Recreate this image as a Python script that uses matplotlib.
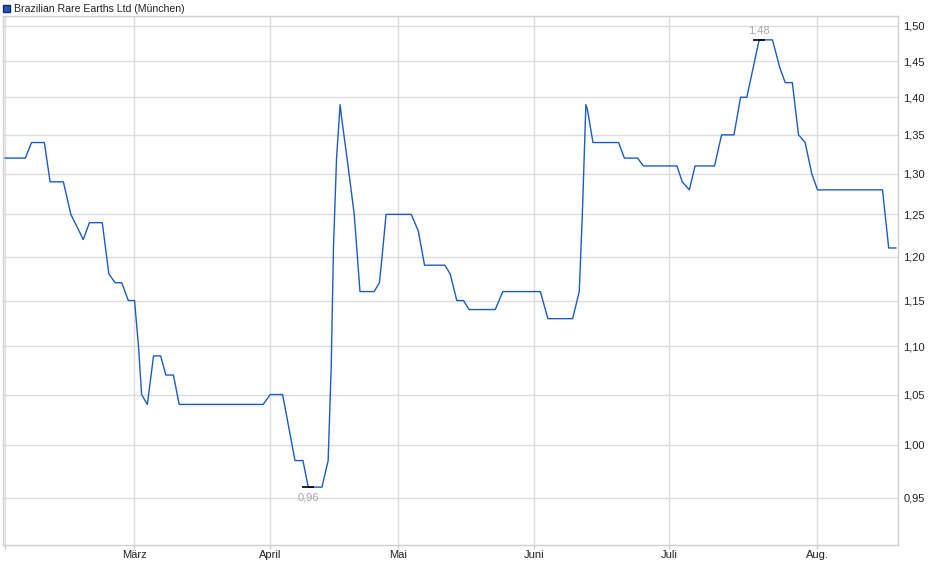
import matplotlib
matplotlib.use('Agg')
import matplotlib.pyplot as plt
from matplotlib.patches import Patch
from matplotlib.ticker import FixedLocator, NullFormatter, NullLocator

plt.rcParams['font.family'] = ['Liberation Sans', 'DejaVu Sans']

TITLE = 'Brazilian Rare Earths Ltd (München)'

# position of each quote in days from the first one, and the price in EUR
days = [0, 4.6, 6.0, 8.9, 10.2, 13.2, 14.9, 17.7, 19.1, 22.0,
        23.5, 24.9, 26.4, 27.9, 29.3, 30.2, 30.9, 32.2, 33.6, 35.2,
        36.4, 38.1, 39.4, 58.4, 60.0, 62.8, 65.6, 67.4, 68.6, 71.7,
        73.1, 73.8, 74.3, 75.0, 75.8, 76.2, 77.6, 79.0, 80.3, 83.5,
        84.7, 85.3, 86.2, 91.9, 93.5, 94.9, 99.5, 100.7, 102.2, 103.7,
        105.0, 110.9, 112.6, 121.1, 122.8, 128.4, 129.9, 130.6, 131.4, 131.7,
        133.0, 138.8, 140.1, 143.1, 144.4, 152.0, 153.2, 154.8, 156.1, 160.5,
        162.1, 164.9, 166.4, 167.8, 170.6, 173.6, 175.3, 176.5, 178.1, 179.5,
        181.0, 182.5, 183.8, 198.5, 199.9, 201.5]
prices = [1.32, 1.32, 1.34, 1.34, 1.29, 1.29, 1.25, 1.22, 1.24, 1.24,
          1.18, 1.17, 1.17, 1.15, 1.15, 1.10, 1.05, 1.04, 1.09, 1.09,
          1.07, 1.07, 1.04, 1.04, 1.05, 1.05, 0.985, 0.985, 0.96, 0.96,
          0.985, 1.08, 1.21, 1.32, 1.39, 1.37, 1.31, 1.25, 1.16, 1.16,
          1.17, 1.20, 1.25, 1.25, 1.23, 1.19, 1.19, 1.18, 1.15, 1.15,
          1.14, 1.14, 1.16, 1.16, 1.13, 1.13, 1.16, 1.25, 1.39, 1.385,
          1.34, 1.34, 1.32, 1.32, 1.31, 1.31, 1.29, 1.28, 1.31, 1.31,
          1.35, 1.35, 1.40, 1.40, 1.48, 1.48, 1.44, 1.42, 1.42, 1.35,
          1.34, 1.30, 1.28, 1.28, 1.21, 1.21]

month_pos = [29.2, 60.0, 88.9, 119.7, 150.2, 183.7]
month_labels = ['März', 'April', 'Mai', 'Juni', 'Juli', 'Aug.']
y_ticks = [0.95, 1.00, 1.05, 1.10, 1.15, 1.20, 1.25, 1.30, 1.35, 1.40, 1.45, 1.50]

LINE_COLOR = '#1a5cc4'
GRID_COLOR = '#dcdcdc'

fig = plt.figure(figsize=(9.4, 5.79), dpi=100)
ax = fig.add_axes([0.0032, 0.0587, 0.9521, 0.9137])

ax.plot(days, prices, color=LINE_COLOR, linewidth=1.0)

ax.set_yscale('log')
ax.set_ylim(0.9077, 1.5146)
ax.set_xlim(-0.45, 202.0)

# y axis on the right, German decimal comma
ax.yaxis.tick_right()
ax.yaxis.set_major_locator(FixedLocator(y_ticks))
ax.yaxis.set_minor_locator(NullLocator())
ax.yaxis.set_minor_formatter(NullFormatter())
ax.set_yticklabels(['{:.2f}'.format(v).replace('.', ',') for v in y_ticks])

ax.set_xticks([0] + month_pos)
ax.set_xticklabels([''] + month_labels)

ax.tick_params(axis='both', labelsize=8, colors='#cccccc', labelcolor='#222222',
               length=3, width=1)
ax.tick_params(axis='y', length=0, pad=4)
ax.tick_params(axis='x', pad=0.5)

ax.grid(True, color=GRID_COLOR, linewidth=1)
ax.set_axisbelow(True)
for side in ('left', 'right', 'top', 'bottom'):
    ax.spines[side].set_color('#d0d0d0')
    ax.spines[side].set_linewidth(1)

# min / max markers
i_max = prices.index(max(prices))
i_min = prices.index(min(prices))
for i, dy, va in ((i_max, 3, 'bottom'), (i_min, -4, 'top')):
    ax.plot(days[i], prices[i], marker='_', markersize=8, color='black',
            markeredgewidth=1.2)
    ax.annotate('{:.2f}'.format(prices[i]).replace('.', ','),
                (days[i], prices[i]), xytext=(0, dy), textcoords='offset points',
                ha='center', va=va, fontsize=8, color='#a8a8a8')

ax.legend(handles=[Patch(facecolor=LINE_COLOR, edgecolor='#1a2a55', linewidth=1)],
          labels=[TITLE], loc='lower left', bbox_to_anchor=(-0.002, 1.0),
          frameon=False, fontsize=7.6, handlelength=0.7, handleheight=0.7,
          handletextpad=0.35, borderpad=0.0, borderaxespad=0.15,
          labelcolor='#222222')

fig.savefig('out.png', dpi=100)
